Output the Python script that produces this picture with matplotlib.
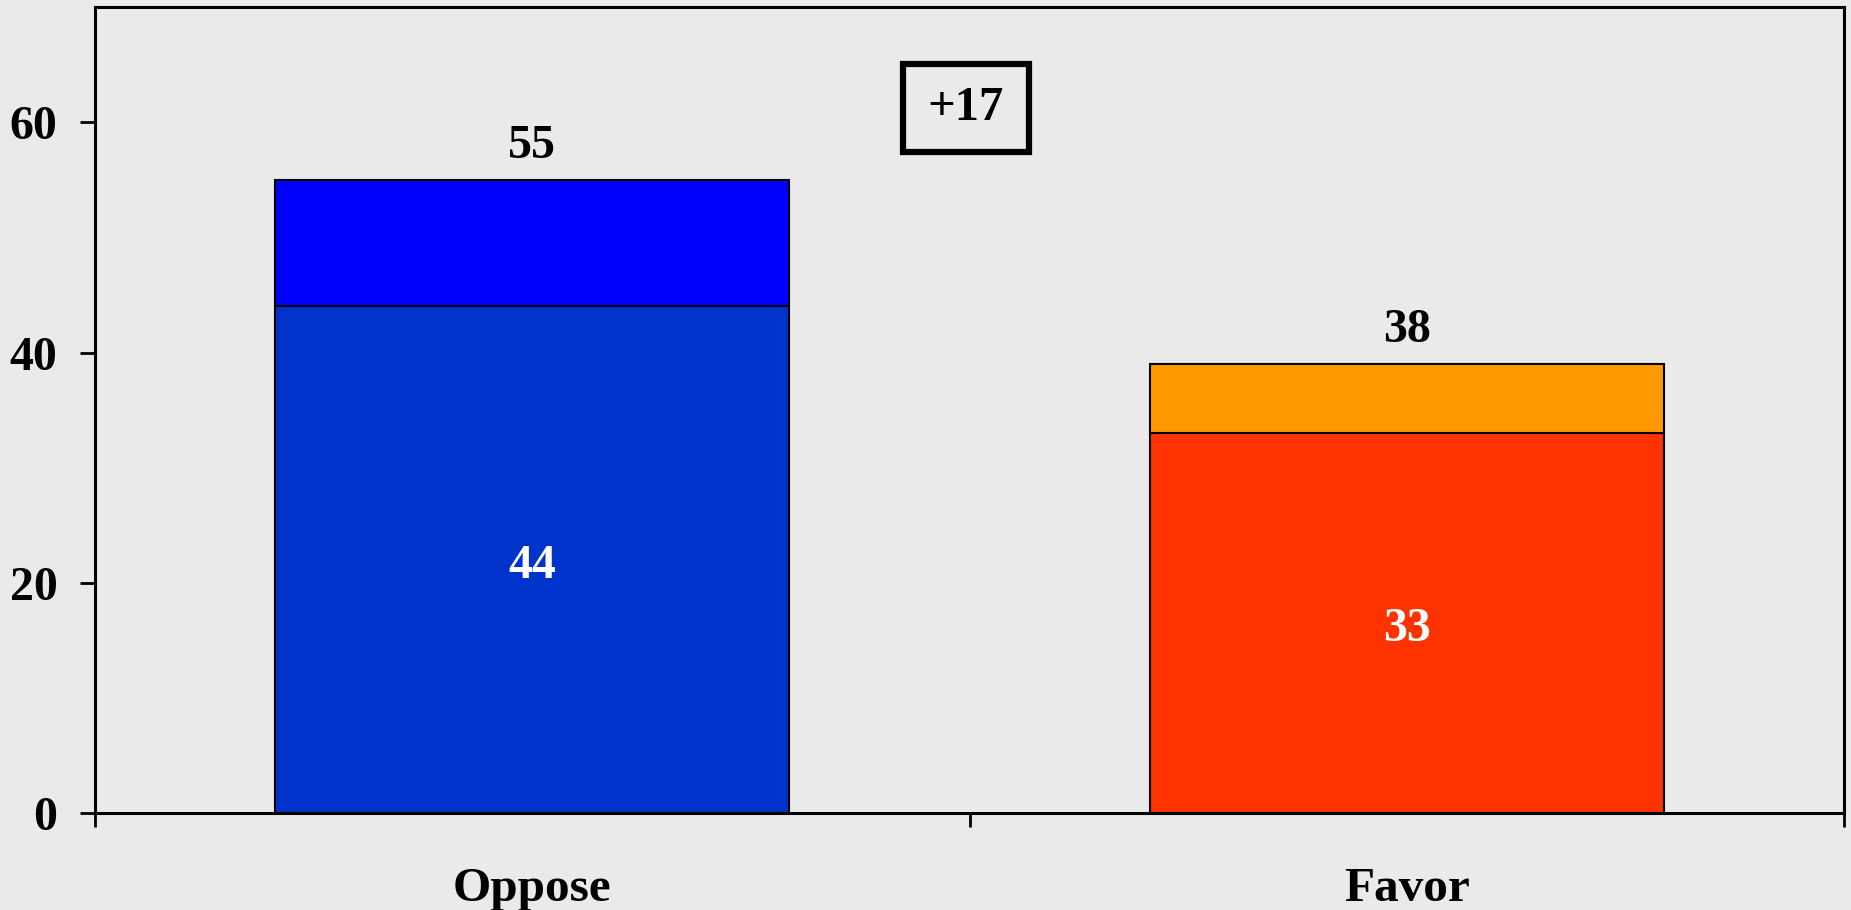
import matplotlib
matplotlib.use("Agg")
import matplotlib.pyplot as plt

categories = ["Oppose", "Favor"]
lower_vals = [44, 33]
upper_vals = [11, 6]
total_labels = ["55", "38"]
lower_colors = ["#0033CC", "#FF3300"]
upper_colors = ["#0000FF", "#FF9900"]
diff_label = "+17"
yticks = [0, 20, 40, 60]

bg = "#EAEAEA"
plt.rcParams['font.family'] = ['Liberation Serif', 'DejaVu Serif']
plt.rcParams['font.weight'] = 'bold'

fig = plt.figure(figsize=(18.51, 9.10), dpi=100, facecolor=bg)
ax = fig.add_axes([95/1851, 1 - 813.3/910, (1844-95)/1851, (813.3-7)/910])
ax.set_facecolor(bg)

x = list(range(len(categories)))
w = 0.588
ax.bar(x, lower_vals, width=w, color=lower_colors, edgecolor="black", linewidth=1.5, zorder=2)
ax.bar(x, upper_vals, width=w, bottom=lower_vals, color=upper_colors, edgecolor="black", linewidth=1.5, zorder=2)

for xi, lv, uv, tl in zip(x, lower_vals, upper_vals, total_labels):
    ax.annotate(str(lv), (xi, lv / 2), xytext=(0, -4.3), textcoords="offset points",
                ha="center", va="center", color="white", fontsize=34.5, fontweight="bold")
    ax.annotate(tl, (xi, lv + uv), xytext=(0, 24.5), textcoords="offset points",
                ha="center", va="center", color="black", fontsize=34.5, fontweight="bold")

ax.text(0.496, 61.2, diff_label, ha="center", va="center", fontsize=35, fontweight="bold",
        bbox=dict(boxstyle="square,pad=0.52", mutation_aspect=0.87,
                  facecolor=bg, edgecolor="black", linewidth=4.5))

ax.set_xlim(-0.5, 1.5)
ax.set_ylim(0, 70)
ax.set_yticks(yticks)
ax.set_yticklabels([str(t) for t in yticks], fontsize=34.5, fontweight="bold")
ax.tick_params(axis="y", length=11, width=2, pad=16, direction="out")

ax.set_xticks(x)
ax.set_xticklabels(categories, fontsize=35.5, fontweight="bold")
ax.tick_params(axis="x", which="major", length=0, pad=39)
ax.set_xticks([-0.5, 0.5, 1.5], minor=True)
ax.tick_params(axis="x", which="minor", length=10, width=2, direction="out")

for s in ax.spines.values():
    s.set_linewidth(2.2)
    s.set_color("black")

fig.savefig("out.png", dpi=100, facecolor=bg)
